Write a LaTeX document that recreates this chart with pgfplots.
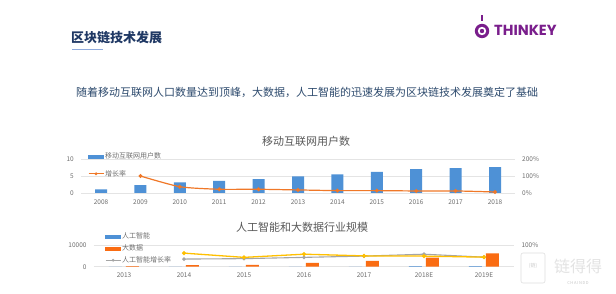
\documentclass[border=0pt]{standalone}
\usepackage{pgfplots}
\pgfplotsset{compat=1.18}
\usepackage{fontspec}
\setmainfont{Noto Sans CJK SC}
\newfontfamily\logofont{Poppins}
\definecolor{titleblue}{RGB}{31,56,100}
\definecolor{subblue}{RGB}{46,75,110}
\definecolor{ulblue}{RGB}{143,170,220}
\definecolor{barblue}{RGB}{78,145,214}
\definecolor{lineorange}{RGB}{240,120,40}
\definecolor{barorange}{RGB}{250,108,18}
\definecolor{lyellow}{RGB}{255,192,0}
\definecolor{lgray}{RGB}{165,165,165}
\definecolor{tickgray}{RGB}{110,110,110}
\definecolor{chtitle}{RGB}{89,89,89}
\definecolor{logopurple}{RGB}{122,30,140}
\definecolor{gridc}{RGB}{228,228,228}
\pgfplotsset{
  slide/.style={
    scale only axis,
    axis line style={draw=none},
    tick style={draw=none},
    ymajorgrids,
    grid style={gridc, line width=0.6pt},
    tick label style={font=\fontsize{6.5}{7}\selectfont, text=tickgray},
    /pgf/number format/assume math mode=true,
    /pgf/number format/1000 sep={},
    scaled y ticks=false,
    xticklabel style={yshift=-3pt},
    yticklabel style={xshift=-4pt},
    clip=false,
  },
  slideright/.style={
    scale only axis,
    axis y line*=right,
    axis line style={draw=none},
    tick style={draw=none},
    hide x axis,
    tick label style={font=\fontsize{6.5}{7}\selectfont, text=tickgray},
    /pgf/number format/assume math mode=true,
    yticklabel style={xshift=4pt},
    yticklabel={\pgfmathprintnumber{\tick}\%},
    clip=false,
    legend cell align=left,
  },
}
\pgfplotstableread{
x users
0 1.1
1 2.3
2 3.1
3 3.6
4 4.1
5 4.9
6 5.5
7 6.2
8 7.0
9 7.3
10 7.6
}\usertable
\pgfplotstableread{
x rate
1 100
2 37
3 22
4 22
5 18
6 14
7 14
8 12
9 12
10 6
}\ratetable
\pgfplotstableread{
x ai bd
0 0 300
1 0 800
2 0 900
3 0 1800
4 0 2700
5 300 4300
6 300 6300
}\scaletable
\pgfplotstableread{
x bdrate airate
1 64 36
2 44 38
3 59 44
4 51 50
5 50 59
6 45 45
}\growthtable
\begin{document}
\begin{tikzpicture}
\path[fill=white] (0pt,0pt) rectangle (616pt,-294pt);
% header
\node[anchor=west, inner sep=0pt, text=titleblue, font=\fontsize{13}{13}\selectfont\bfseries] at (71pt,-38pt) {区块链技术发展};
\draw[ulblue, line width=0.9pt] (72pt,-49pt) -- (103pt,-49pt);
% logo
\fill[logopurple] (482pt,-31pt) circle (7.2pt);
\fill[white] (482pt,-31pt) circle (4.2pt);
\fill[logopurple] (482pt,-31pt) circle (2.2pt);
\fill[logopurple] (480.6pt,-15pt) rectangle (483.4pt,-21pt);
\node[anchor=west, inner sep=0pt, text=logopurple, font=\logofont\fontsize{14.6}{15}\selectfont\bfseries] at (494pt,-30pt) {THINKEY};
% subtitle
\node[anchor=west, inner sep=0pt, text=subblue, font=\fontsize{11}{12}\selectfont] at (76pt,-92pt) {随着移动互联网人口数量达到顶峰，大数据，人工智能的迅速发展为区块链技术发展奠定了基础};
% chart titles
\node[inner sep=0pt, text=chtitle, font=\fontsize{11}{11}\selectfont] at (306pt,-141pt) {移动互联网用户数};
\node[inner sep=0pt, text=chtitle, font=\fontsize{11}{11}\selectfont] at (302pt,-227pt) {人工智能和大数据行业规模};

% ---------- chart 1
\begin{axis}[slide, at={(81.3pt,-193pt)}, anchor=south west,
  width=433.4pt, height=34pt,
  xmin=-0.5, xmax=10.5, ymin=0, ymax=10,
  xtick={0,...,10}, xticklabels={2008,2009,2010,2011,2012,2013,2014,2015,2016,2017,2018},
  ytick={0,5,10}]
\addplot[ybar, bar width=12pt, fill=barblue, draw=none] table[x=x,y=users] {\usertable};
\end{axis}
\begin{axis}[slideright, at={(81.3pt,-193pt)}, anchor=south west,
  width=433.4pt, height=34pt,
  xmin=-0.5, xmax=10.5, ymin=0, ymax=200, ytick={0,100,200},
  legend style={draw=none, fill=none, at={(0.015,1.22)}, anchor=north west,
    font=\fontsize{7}{7}\selectfont, text=tickgray, inner sep=0pt,
    row sep=8pt, nodes={inner sep=1pt}}]
\addlegendimage{legend image code/.code={\fill[barblue] (0pt,-1.4pt) rectangle (15pt,1.4pt);}}
\addlegendentry{移动互联网用户数}
\addlegendimage{legend image code/.code={\draw[lineorange, line width=1.1pt] (0pt,0pt) -- (15pt,0pt); \fill[lineorange] (7.5pt,0pt) circle (1.3pt);}}
\addlegendentry{增长率}
\addplot[lineorange, line width=1.2pt, smooth, tension=0.4, mark=*, mark size=1.3pt, forget plot] table[x=x,y=rate] {\ratetable};
\end{axis}

% ---------- chart 2
\begin{axis}[slide, at={(94pt,-266.7pt)}, anchor=south west,
  width=420pt, height=21.2pt,
  xmin=-0.5, xmax=6.5, ymin=0, ymax=10000,
  xtick={0,...,6}, xticklabels={2013,2014,2015,2016,2017,2018E,2019E},
  ytick={0,10000}]
\addplot[ybar, bar width=13pt, bar shift=-8.5pt, fill=barblue, draw=none] table[x=x,y=ai] {\scaletable};
\addplot[ybar, bar width=13pt, bar shift=8.5pt, fill=barorange, draw=none] table[x=x,y=bd] {\scaletable};
\end{axis}
\begin{axis}[slideright, at={(94pt,-266.7pt)}, anchor=south west,
  width=420pt, height=21.2pt,
  xmin=-0.5, xmax=6.5, ymin=0, ymax=100, ytick={100},
  legend style={draw=none, fill=none, at={(0.026,1.66)}, anchor=north west,
    font=\fontsize{7}{7}\selectfont, text=tickgray, inner sep=0pt,
    row sep=2.5pt, nodes={inner sep=1pt}}]
\addlegendimage{legend image code/.code={\fill[barblue] (0pt,-1.5pt) rectangle (15pt,1.5pt);}}
\addlegendentry{人工智能}
\addlegendimage{legend image code/.code={\fill[barorange] (0pt,-1.5pt) rectangle (15pt,1.5pt);}}
\addlegendentry{大数据}
\addlegendimage{legend image code/.code={\draw[lgray, line width=1.1pt] (0pt,0pt) -- (15pt,0pt); \fill[lgray] (7.5pt,0pt) circle (1.2pt);}}
\addlegendentry{人工智能增长率}
\addplot[lgray, line width=1.1pt, mark=*, mark size=1.2pt, forget plot] table[x=x,y=airate] {\growthtable};
\addplot[lyellow, line width=1.3pt, mark=*, mark size=1.3pt, forget plot] table[x=x,y=bdrate] {\growthtable};
\end{axis}

% watermark
\draw[gray!25, line width=0.6pt, rounded corners=2pt] (521pt,-253pt) rectangle (545pt,-283pt);
\node[inner sep=0pt, text=gray!40, font=\fontsize{5}{5}\selectfont] at (533pt,-266pt) {(链)};
\node[inner sep=0pt, text=gray!22, font=\fontsize{16}{16}\selectfont] at (578pt,-266pt) {链得得};
\node[inner sep=0pt, text=gray!45, font=\fontsize{4}{4}\selectfont] at (578pt,-283pt) {C\,H\,A\,I\,N\,D\,D};
\end{tikzpicture}
\end{document}
